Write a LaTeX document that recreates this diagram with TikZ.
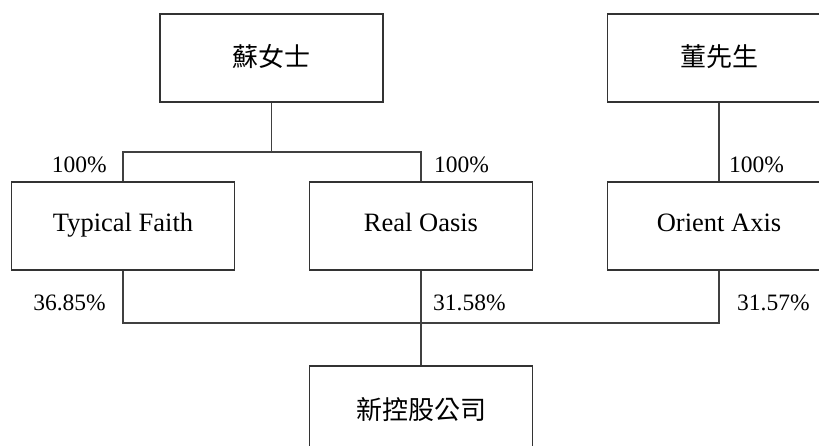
\documentclass[tikz,border=0pt]{standalone}
\usepackage{fontspec}
\setmainfont{Liberation Serif}
\newfontfamily\cjk{Noto Sans CJK TC}
\begin{document}
\begin{tikzpicture}[x=1pt,y=-1pt,
  box/.style={draw=black!80,line width=1.2pt,minimum width=223pt,minimum height=88pt,inner sep=0pt,
    font=\fontsize{26.5}{30}\selectfont,text height=18pt,text depth=6pt},
  cbox/.style={box,font=\cjk\fontsize{26}{30}\selectfont,text height=20pt,text depth=2pt},
  conn/.style={draw=black!75,line width=1.3pt},
  pct/.style={font=\fontsize{23.5}{28}\selectfont,inner sep=0pt}]
\useasboundingbox (0,0) rectangle (819,446);
\clip (0,0) rectangle (819,446);
\node[cbox] (su) at (271.5,58) {蘇女士};
\node[cbox] (dong) at (719,58) {董先生};
\node[box] (tf) at (123,226) {Typical Faith};
\node[box] (ro) at (421,226) {Real Oasis};
\node[box] (oa) at (719,226) {Orient Axis};
\node[cbox] (nc) at (421,410) {新控股公司};
\coordinate (j1) at (271.5,152);
\coordinate (j2) at (421,323);
\draw[conn] (su.south) -- (j1);
\draw[conn] (tf.north) |- (j1) -| (ro.north);
\draw[conn] (dong.south) -- (oa.north);
\draw[conn] (tf.south) |- (j2);
\draw[conn] (oa.south) |- (j2);
\draw[conn] (ro.south) -- (nc.north);
\node[pct,anchor=east] (p1) at (107,165) {100\%};
\node[pct,anchor=west] (p2) at (434,165) {100\%};
\node[pct,anchor=west] (p3) at (729,165) {100\%};
\node[pct,anchor=east] (p4) at (106,303) {36.85\%};
\node[pct,anchor=west] (p5) at (433,303) {31.58\%};
\node[pct,anchor=west] (p6) at (737,303) {31.57\%};
\end{tikzpicture}
\end{document}
